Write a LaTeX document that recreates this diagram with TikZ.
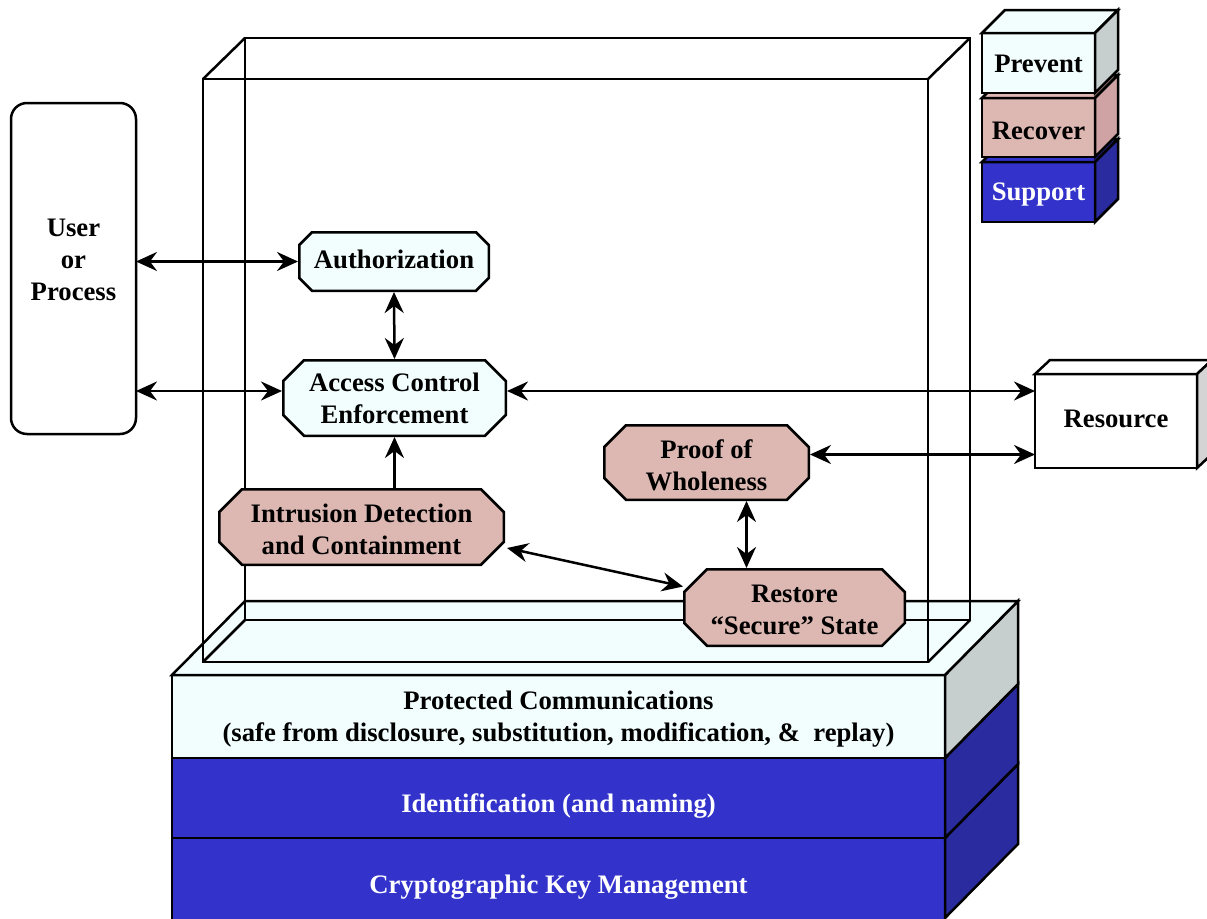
\documentclass[tikz,border=0pt]{standalone}
\usepackage{fontspec}
\setmainfont{Liberation Serif}
\usetikzlibrary{arrows.meta,calc}
\definecolor{cyanlt}{HTML}{F2FEFE}
\definecolor{pinkrec}{HTML}{DDB8B3}
\definecolor{pinkside}{HTML}{CFA3A3}
\definecolor{grayside}{HTML}{C6CECE}
\definecolor{bluesup}{HTML}{3333CC}
\definecolor{blueside}{HTML}{2B2BA0}
\definecolor{resside}{HTML}{D4D4D4}
\tikzset{
  lbl/.style={font=\bfseries\fontsize{26.7}{32}\selectfont, align=center, inner sep=0pt, outer sep=0pt},
  octo/.style n args={4}{lbl, minimum width=#1, minimum height=#2, path picture={
    \filldraw[fill=#3, draw=black, line width=2.5pt]
      let \p1=(path picture bounding box.north west), \p2=(path picture bounding box.south east) in
      (\x1+#4,\y1-1.25pt) -- (\x2-#4,\y1-1.25pt) -- (\x2-1.25pt,\y1-#4) -- (\x2-1.25pt,\y2+#4) -- (\x2-#4,\y2+1.25pt) -- (\x1+#4,\y2+1.25pt) -- (\x1+1.25pt,\y2+#4) -- (\x1+1.25pt,\y1-#4) -- cycle;}},
  boxfront/.style={lbl, draw, line width=2.5pt},
  conn/.style={line width=2.5pt},
}
\begin{document}
\begin{tikzpicture}[x=1pt,y=-1pt,line width=2.5pt,line join=miter,>={Stealth[length=21pt,width=19pt,inset=7pt]}]
\useasboundingbox[fill=white] (0,0) rectangle (1207,918);
% platform layers
\node[boxfront, fill=bluesup, text=white, minimum width=773pt, minimum height=92pt, text depth=0pt] (crypto) at (558.5,884) {Cryptographic Key Management};
\filldraw[fill=blueside] (crypto.north east) -- ++(73,-74) -- ++(0,80) -- ++(-73,74) -- cycle;
\node[boxfront, fill=bluesup, text=white, minimum width=773pt, minimum height=80pt, text height=28pt, text depth=0pt] (ident) at (558.5,798) {Identification (and naming)};
\filldraw[fill=blueside] (ident.north east) -- ++(73,-74) -- ++(0,80) -- (ident.south east) -- cycle;
\node[boxfront, fill=cyanlt, minimum width=773pt, minimum height=83pt, text depth=0pt] (prot) at (558.5,716.5) {Protected Communications\\(safe from disclosure, substitution, modification, \&~ replay)};
\filldraw[fill=grayside] (prot.north east) -- ++(73,-74) -- ++(0,83) -- (prot.south east) -- cycle;
\filldraw[fill=cyanlt] (prot.north west) -- ++(73,-74) -- ++(773,0) -- (prot.north east) -- cycle;
% glass box
\draw (203,79) rectangle (928,662);
\draw (245,38) -- (970,38) -- (970,620) -- (245,620) -- cycle;
\draw (203,79) -- (245,38) (928,79) -- (970,38) (203,662) -- (245,620) (928,662) -- (970,620);
% user
\node[lbl, draw, rounded corners=16pt, fill=white, minimum width=125pt, minimum height=331pt, text depth=18pt] (user) at (73.5,268.5) {User\\or\\Process};
% legend
\node[boxfront, fill=bluesup, text=white, minimum width=113pt, minimum height=60pt, text depth=0pt] (sup) at (1038.5,192) {Support};
\filldraw[fill=bluesup] (sup.north west) -- ++(23,-23) -- ++(113,0) -- (sup.north east) -- cycle;
\filldraw[fill=blueside] (sup.north east) -- ++(23,-23) -- ++(0,60) -- (sup.south east) -- cycle;
\node[boxfront, fill=pinkrec, minimum width=113pt, minimum height=59pt, text height=23pt, text depth=0pt] (rec) at (1038.5,127.5) {Recover};
\filldraw[fill=pinkrec] (rec.north west) -- ++(23,-23) -- ++(113,0) -- (rec.north east) -- cycle;
\filldraw[fill=pinkside] (rec.north east) -- ++(23,-23) -- ++(0,59) -- (rec.south east) -- cycle;
\node[boxfront, fill=cyanlt, minimum width=113pt, minimum height=60pt, text height=19.5pt, text depth=0pt] (prev) at (1038.5,63) {Prevent};
\filldraw[fill=cyanlt] (prev.north west) -- ++(23,-23) -- ++(113,0) -- (prev.north east) -- cycle;
\filldraw[fill=grayside] (prev.north east) -- ++(23,-23) -- ++(0,60) -- (prev.south east) -- cycle;
% resource
\node[boxfront, fill=white, minimum width=162pt, minimum height=94pt, text depth=4pt] (res) at (1116,421) {Resource};
\filldraw[fill=white] (res.north west) -- ++(15,-14) -- ++(162,0) -- (res.north east) -- cycle;
\filldraw[fill=resside] (res.north east) -- ++(15,-14) -- ++(0,94) -- (res.south east) -- cycle;
% octagons
\node[octo={192pt}{61pt}{cyanlt}{14pt}, text depth=4pt] (auth) at (394,261.5) {Authorization};
\node[octo={225pt}{78pt}{cyanlt}{22pt}, text depth=0pt] (acc) at (394.5,398) {Access Control\\Enforcement};
\node[octo={287pt}{78pt}{pinkrec}{24pt}, text height=54.5pt, text depth=0pt] (intr) at (361.5,527) {Intrusion Detection\\and Containment};
\node[octo={207pt}{77pt}{pinkrec}{23pt}, text height=56pt, text depth=0pt] (proof) at (706.5,462.5) {Proof of\\Wholeness};
\node[octo={223pt}{79pt}{pinkrec}{24pt}, text height=53.7pt, text depth=0pt] (rest) at (794.5,607.5) {Restore\\“Secure” State};
% connectors
\coordinate (accL) at ([yshift=7pt]acc.west);
\coordinate (accR) at ([yshift=7pt]acc.east);
\coordinate (intrA) at ([shift={(2pt,-21pt)}]intr.east);
\coordinate (restA) at ([yshift=21pt]rest.west);
\coordinate (proofR) at ([yshift=8pt]proof.east);
\coordinate (proofB) at ([xshift=40pt]proof.south);
\draw[conn,<->] (user.east |- auth.west) -- (auth.west);
\draw[conn,<->] (user.east |- accL) -- (accL);
\draw[conn,<->] (auth.south) -- (acc.north);
\draw[conn,<->] (accR) -- (res.west |- accR);
\draw[conn,->] (intr.north -| acc.south) -- (acc.south);
\draw[conn,<->] (intrA) -- (restA);
\draw[conn,<->] (proofR) -- (res.west |- proofR);
\draw[conn,<->] (proofB) -- (rest.north -| proofB);
\end{tikzpicture}
\end{document}
